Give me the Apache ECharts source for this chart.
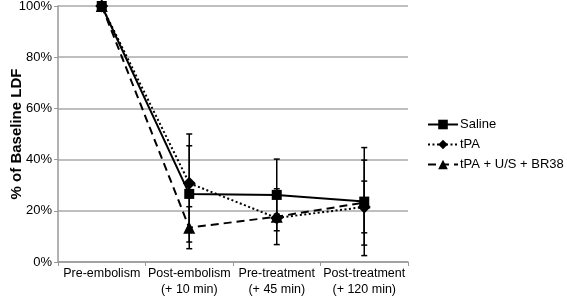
<!DOCTYPE html>
<html>
<head>
<meta charset="utf-8">
<script src="https://cdn.jsdelivr.net/npm/echarts@6/dist/echarts.min.js"></script>
<style>
  html, body { margin: 0; padding: 0; background: #fff; }
  #chart { width: 567px; height: 297px; }
</style>
</head>
<body>
<div id="chart"></div>
<script>
// categories and values (% of baseline LDF)
var categories = ["Pre-embolism", "Post-embolism\n(+ 10 min)", "Pre-treatment\n(+ 45 min)", "Post-treatment\n(+ 120 min)"];
var salineMean = [100, 26.6, 26.2, 23.6];
var salineErr = [0, 18.8, 14.0, 21.1];
var tpaMean = [100, 30.8, 17.2, 21.5];
var tpaErr = [0, 19.2, 1.5, 10.1];
var comboMean = [100, 13.4, 17.7, 23.2];
var comboErr = [0, 8.2, 10.9, 16.6];
var yTicks = [0, 20, 40, 60, 80, 100];

var myChart = echarts.init(document.getElementById("chart"));

// error bars drawn as custom series
function errorSeries(name, mean, err) {
  var data = [];
  for (var i = 0; i < mean.length; i++) {
    if (err[i] > 0) data.push([i, mean[i] - err[i], mean[i] + err[i]]);
  }
  return {
    name: name,
    type: "custom",
    silent: true,
    z: 1,
    renderItem: function (params, api) {
      var lo = api.coord([api.value(0), api.value(1)]);
      var hi = api.coord([api.value(0), api.value(2)]);
      var w = 3;
      var st = { stroke: "#000", lineWidth: 1.5 };
      return {
        type: "group",
        children: [
          { type: "line", shape: { x1: lo[0], y1: lo[1], x2: hi[0], y2: hi[1] }, style: st },
          { type: "line", shape: { x1: lo[0] - w, y1: lo[1], x2: lo[0] + w, y2: lo[1] }, style: st },
          { type: "line", shape: { x1: hi[0] - w, y1: hi[1], x2: hi[0] + w, y2: hi[1] }, style: st }
        ]
      };
    },
    encode: { x: 0, y: [1, 2] },
    data: data
  };
}

var option = {
  animation: false,
  textStyle: { fontFamily: "Liberation Sans, Arial, sans-serif" },
  grid: { left: 58, top: 6, right: 159, bottom: 35, outerBoundsMode: "none", containLabel: false },
  legend: {
    left: 422,
    top: 113,
    orient: "vertical",
    itemWidth: 30,
    itemHeight: 12,
    itemGap: 7,
    textStyle: { fontSize: 13, color: "#000", padding: [0, 0, 0, -3] },
    data: ["Saline", "tPA", "tPA + U/S + BR38"]
  },
  xAxis: {
    type: "category",
    data: categories,
    boundaryGap: true,
    axisLine: { lineStyle: { color: "#999", width: 1.5 } },
    axisTick: { show: true, length: 4, lineStyle: { color: "#999" } },
    axisLabel: { color: "#000", fontSize: 12.5, lineHeight: 16, margin: 4, interval: 0 }
  },
  yAxis: {
    type: "value",
    min: 0,
    max: 100,
    interval: 20,
    name: "% of Baseline LDF",
    nameLocation: "center",
    nameGap: 34,
    nameMoveOverlap: false,
    nameTextStyle: { fontSize: 15, fontWeight: "bold", color: "#000" },
    axisLine: { show: true, lineStyle: { color: "#999", width: 1.5 } },
    axisTick: { show: true, length: 4, lineStyle: { color: "#999" } },
    axisLabel: { color: "#000", fontSize: 13, margin: 6, formatter: "{value}%" },
    splitLine: { lineStyle: { color: "#aaa", width: 1.5 } }
  },
  series: [
    errorSeries("errSaline", salineMean, salineErr),
    errorSeries("errTpa", tpaMean, tpaErr),
    errorSeries("errCombo", comboMean, comboErr),
    {
      name: "Saline",
      type: "line",
      z: 3,
      data: salineMean,
      symbol: "rect",
      symbolSize: 10,
      itemStyle: { color: "#000" },
      lineStyle: { color: "#000", width: 2 }
    },
    {
      name: "tPA",
      type: "line",
      z: 3,
      data: tpaMean,
      symbol: "diamond",
      symbolSize: 13,
      itemStyle: { color: "#000" },
      lineStyle: { color: "#000", width: 2, type: [2, 2.5] }
    },
    {
      name: "tPA + U/S + BR38",
      type: "line",
      z: 3,
      data: comboMean,
      symbol: "triangle",
      symbolSize: 12,
      itemStyle: { color: "#000" },
      lineStyle: { color: "#000", width: 2, type: [8, 5] }
    }
  ]
};

myChart.setOption(option);
window.onresize = myChart.resize;
</script>
</body>
</html>
